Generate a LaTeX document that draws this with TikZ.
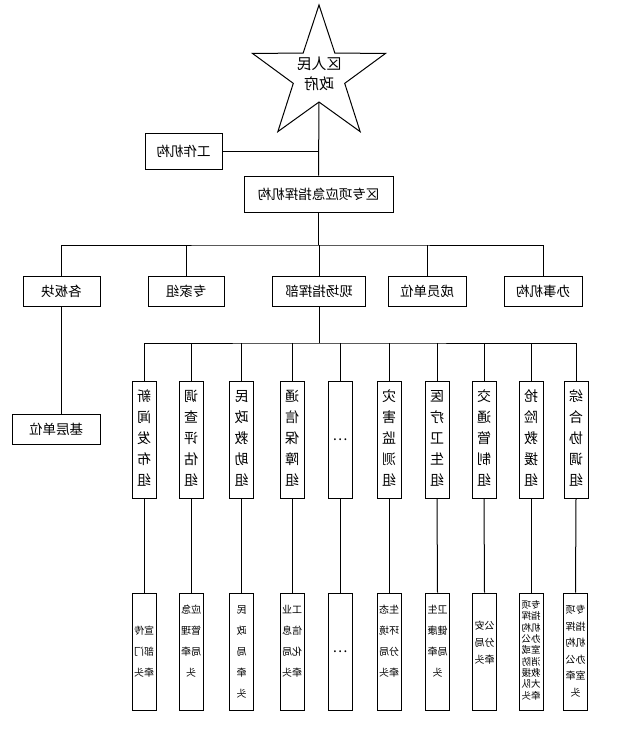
\documentclass[tikz,border=0pt]{standalone}
\usepackage{fontspec}
\usepackage{graphicx}
\newfontfamily\cjk{Noto Sans CJK SC}
\usetikzlibrary{shapes.geometric}
\newcommand\flip[1]{\reflectbox{#1}}
\newcommand\vcol[1]{\reflectbox{\begin{tabular}{@{}c@{}}#1\end{tabular}}}

\begin{document}
\begin{tikzpicture}[x=1pt,y=-1pt,line width=1pt,
  box/.style={draw,inner sep=0pt,minimum height=30pt,font=\cjk\fontsize{13.5}{16}\selectfont},
  grp/.style={draw,inner sep=0pt,minimum width=24pt,minimum height=117pt,font=\cjk\fontsize{14}{21}\selectfont},
  lead/.style={draw,inner sep=0pt,minimum width=24pt,minimum height=117pt,font=\cjk\fontsize{10}{21}\selectfont}]
\useasboundingbox (0,0) rectangle (616,739);

% star on top
\node[star,star points=5,star point ratio=2.59,minimum size=140pt,inner sep=0pt,draw] (gov) at (319,75) {};
\node[font=\cjk\fontsize{15}{20}\selectfont,inner sep=0pt] (govtext) at (gov.center) {\vcol{区人民\\政府}};

\node[box,minimum width=77pt,minimum height=36pt] (work) at (183.5,151) {\flip{工作机构}};
\node[box,minimum width=149pt,minimum height=36pt] (cmd) at (318.5,194) {\flip{区专项应急指挥机构}};

\node[box,minimum width=77pt] (blk) at (61.5,291) {\flip{各板块}};
\node[box,minimum width=76pt] (expert) at (186,291) {\flip{专家组}};
\node[box,minimum width=93pt] (site) at (319,291) {\flip{现场指挥部}};
\node[box,minimum width=78pt] (member) at (427,291) {\flip{成员单位}};
\node[box,minimum width=78pt] (office) at (543,291) {\flip{办事机构}};
\node[box,minimum width=88pt] (base) at (56,429) {\flip{基层单位}};

% working groups
\node[grp] (g1) at (144,439.5) {\vcol{新\\闻\\发\\布\\组}};
\node[grp] (g2) at (191,439.5) {\vcol{调\\查\\评\\估\\组}};
\node[grp] (g3) at (241.5,439.5) {\vcol{民\\政\\救\\助\\组}};
\node[grp] (g4) at (292,439.5) {\vcol{通\\信\\保\\障\\组}};
\node[grp] (g5) at (340,439.5) {…};
\node[grp] (g6) at (389,439.5) {\vcol{灾\\害\\监\\测\\组}};
\node[grp] (g7) at (437,439.5) {\vcol{医\\疗\\卫\\生\\组}};
\node[grp] (g8) at (484,439.5) {\vcol{交\\通\\管\\制\\组}};
\node[grp] (g9) at (531,439.5) {\vcol{抢\\险\\救\\援\\组}};
\node[grp] (g10) at (576,439.5) {\vcol{综\\合\\协\\调\\组}};

% lead units
\node[lead] (u1) at (144,651.5) {\vcol{宣传\\部门\\牵头}};
\node[lead] (u2) at (191,651.5) {\vcol{应急\\管理\\局牵\\头\\{}}};
\node[lead] (u3) at (241.5,651.5) {\vcol{民\\政\\局\\牵\\头}};
\node[lead] (u4) at (292,651.5) {\vcol{工业\\信息\\化局\\牵头\\{}}};
\node[lead,font=\cjk\fontsize{14}{21}\selectfont] (u5) at (340,651.5) {…};
\node[lead] (u6) at (389,651.5) {\vcol{生态\\环境\\分局\\牵头\\{}}};
\node[lead] (u7) at (437.5,651.5) {\vcol{卫生\\健康\\局牵\\头\\{}}};
\node[lead,font=\cjk\fontsize{10}{17}\selectfont] (u8) at (484.5,651.5) {\vcol{公安\\分局\\牵头\\{}}};
\node[lead,font=\cjk\fontsize{9.5}{11}\selectfont] (u9) at (531,651.5) {\vcol{专项\\指挥\\机构\\办公\\室或\\消防\\救援\\大队\\牵头}};
\node[lead,font=\cjk\fontsize{10}{16.5}\selectfont] (u10) at (575.5,651.5) {\vcol{专项\\指挥\\机构\\办公\\室牵\\头}};

% connectors
\coordinate (hub) at (318.5,245);
\coordinate (hub2) at (319,343);
\draw (gov.south) -- (cmd.north);
\draw (work.east) -- (work.east -| cmd.north);
\draw (cmd.south) -- (hub);
\draw (blk.north) |- (hub) -| (office.north);
\draw (expert.north) -- (expert.north |- hub);
\draw (site.north) -- (site.north |- hub);
\draw (member.north) -- (member.north |- hub);
\draw (blk.south) -- (blk.south |- base.north);
\draw (site.south) -- (hub2);
\draw (g1.north) |- (hub2) -| (g10.north);
\foreach \i in {2,...,9}
  \draw (g\i.north) -- (g\i.north |- hub2);
\foreach \i in {1,...,10}
  \draw (g\i.south) -- (u\i.north);
\end{tikzpicture}
\end{document}
